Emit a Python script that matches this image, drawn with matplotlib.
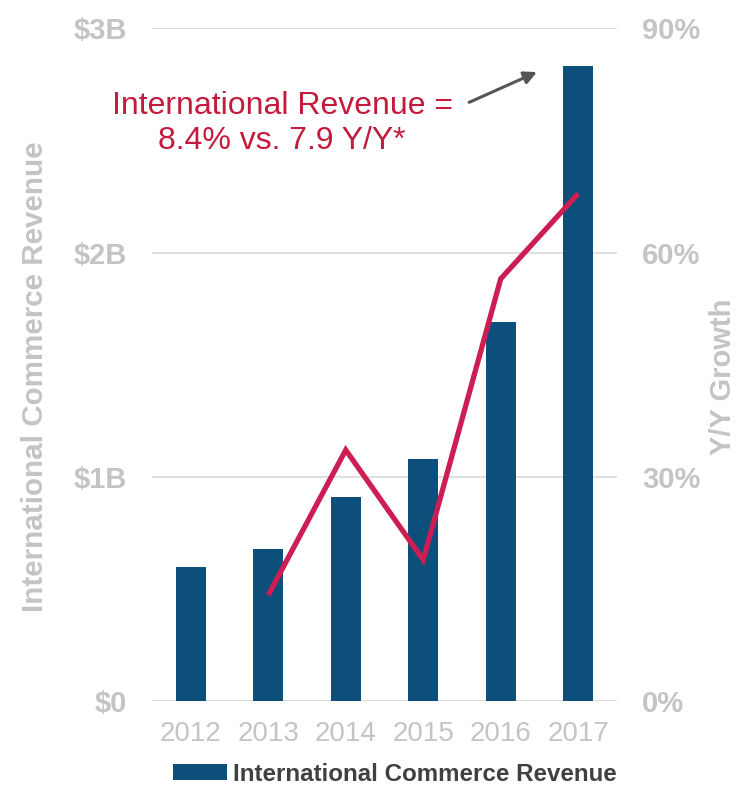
import numpy as np
import matplotlib
matplotlib.use("Agg")
import matplotlib.pyplot as plt

years = ["2012", "2013", "2014", "2015", "2016", "2017"]
revenue_b = [0.60, 0.68, 0.91, 1.08, 1.69, 2.83]
growth_years = ["2013", "2014", "2015", "2016", "2017"]
growth_pct = [14.2, 33.6, 18.9, 56.5, 67.9]

rev_ticks = [0, 1, 2, 3]
rev_labels = ["$0", "$1B", "$2B", "$3B"]
pct_ticks = [0, 30, 60, 90]
pct_labels = ["0%", "30%", "60%", "90%"]

bar_color = "#0b4f7a"
line_color = "#cc1e52"
gray = "#c4c4c4"

plt.rcParams["font.family"] = ["Liberation Sans", "DejaVu Sans"]

fig = plt.figure(figsize=(7.38, 7.87), dpi=100)
ax = fig.add_axes([0.206, 0.109, 0.63, 0.855])

x = np.arange(len(years))
ax.bar(x, revenue_b, width=0.39, color=bar_color, zorder=3,
       label="International Commerce Revenue")
ax.set_xlim(-0.5, len(years) - 0.5)
ax.set_ylim(0, 3)
ax.set_yticks(rev_ticks)
ax.set_yticklabels(rev_labels, fontsize=21, fontweight="bold", color=gray)
ax.set_xticks(x)
ax.set_xticklabels(years, fontsize=20, color=gray)
ax.tick_params(axis="both", length=0)
ax.tick_params(axis="y", pad=18)
ax.tick_params(axis="x", pad=14)
ax.grid(axis="y", color="#dcdcdc", linewidth=1.3, zorder=0)
for s in ax.spines.values():
    s.set_visible(False)
ax.set_ylabel("International Commerce Revenue", fontsize=21.3, fontweight="bold",
              color=gray)
ax.yaxis.set_label_coords(-0.222, 0.482)

ax2 = ax.twinx()
gx = [years.index(y) for y in growth_years]
ax2.plot(gx, growth_pct, color=line_color, linewidth=3.8, solid_capstyle="butt",
         solid_joinstyle="miter", zorder=4)
ax2.set_ylim(0, 90)
ax2.set_yticks(pct_ticks)
ax2.set_yticklabels(pct_labels, fontsize=21, fontweight="bold", color=gray)
ax2.tick_params(axis="y", length=0, pad=18)
for s in ax2.spines.values():
    s.set_visible(False)
ax2.set_ylabel("Y/Y Growth", fontsize=21, fontweight="bold", color=gray)
ax2.yaxis.set_label_coords(1.198, 0.482)

# callout
ax.text(1.18, 2.577, "International Revenue =\n8.4% vs. 7.9 Y/Y*", ha="center",
        va="center", fontsize=23, color="#c41a3c", linespacing=1.2, zorder=5)
ax.annotate("", xy=(4.5, 2.81), xytext=(3.56, 2.665),
            arrowprops=dict(arrowstyle="-|>", color="#555555", lw=2.2,
                            mutation_scale=19), zorder=5)

fig.legend(loc="center", bbox_to_anchor=(0.535, 0.016), frameon=False,
           handlelength=2.25, handleheight=0.65, handletextpad=0.25,
           prop={"weight": "bold", "size": 17.4}, labelcolor="#404040")

plt.savefig("out.png", dpi=100)
